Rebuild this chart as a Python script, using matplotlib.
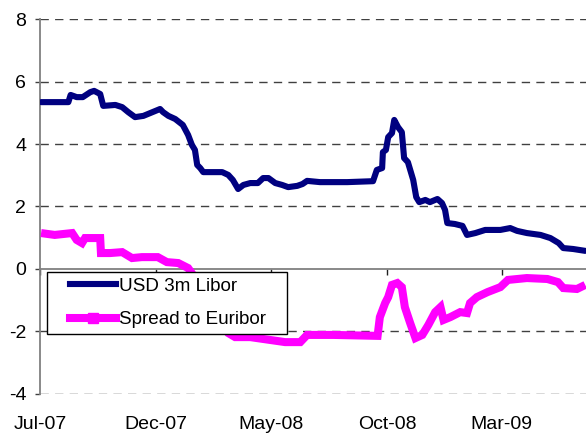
import matplotlib
matplotlib.use("Agg")
import matplotlib.pyplot as plt
from matplotlib.lines import Line2D
from matplotlib.patches import Rectangle
import pandas as pd

plt.rcParams['font.family'] = ['Liberation Sans', 'DejaVu Sans']

libor_dates = ['2007-07-02', '2007-08-07', '2007-08-10', '2007-08-18', '2007-08-26', '2007-09-05',
               '2007-09-10', '2007-09-18', '2007-09-22', '2007-10-08', '2007-10-17', '2007-10-25',
               '2007-11-03', '2007-11-14', '2007-11-23', '2007-12-06', '2007-12-10', '2007-12-17',
               '2007-12-26', '2008-01-05', '2008-01-12', '2008-01-17', '2008-01-21', '2008-01-24',
               '2008-01-28', '2008-02-01', '2008-02-26', '2008-03-05', '2008-03-11', '2008-03-18',
               '2008-03-25', '2008-04-03', '2008-04-13', '2008-04-20', '2008-04-27', '2008-05-06',
               '2008-05-15', '2008-05-23', '2008-06-04', '2008-06-11', '2008-06-17', '2008-07-04',
               '2008-08-09', '2008-09-12', '2008-09-17', '2008-09-24', '2008-09-25', '2008-09-29',
               '2008-10-02', '2008-10-07', '2008-10-10', '2008-10-15', '2008-10-20', '2008-10-23',
               '2008-10-28', '2008-11-04', '2008-11-08', '2008-11-12', '2008-11-20', '2008-11-26',
               '2008-12-06', '2008-12-12', '2008-12-16', '2008-12-19', '2008-12-29', '2009-01-08',
               '2009-01-14', '2009-01-25', '2009-02-07', '2009-02-27', '2009-03-12', '2009-03-21',
               '2009-04-03', '2009-04-21', '2009-05-04', '2009-05-15', '2009-05-21', '2009-06-03',
               '2009-06-19']
libor_values = [5.34, 5.34, 5.57, 5.50, 5.50, 5.66,
                5.70, 5.60, 5.22, 5.25, 5.18, 5.02,
                4.86, 4.90, 4.99, 5.12, 5.02, 4.90,
                4.80, 4.61, 4.29, 3.97, 3.81, 3.33,
                3.23, 3.10, 3.10, 3.01, 2.85, 2.56,
                2.69, 2.75, 2.75, 2.91, 2.91, 2.75,
                2.69, 2.62, 2.66, 2.72, 2.82, 2.78,
                2.78, 2.81, 3.17, 3.23, 3.74, 3.81,
                4.22, 4.35, 4.77, 4.54, 4.38, 3.55,
                3.42, 2.85, 2.30, 2.14, 2.21, 2.14,
                2.24, 2.11, 1.89, 1.47, 1.44, 1.38,
                1.09, 1.15, 1.25, 1.25, 1.31, 1.22,
                1.15, 1.09, 0.99, 0.83, 0.67, 0.64,
                0.58]

spread_dates = ['2007-07-02', '2007-07-20', '2007-08-12', '2007-08-18', '2007-08-25', '2007-08-29',
                '2007-09-18', '2007-09-19', '2007-10-01', '2007-10-17', '2007-10-30', '2007-11-12',
                '2007-12-03', '2007-12-15', '2007-12-30', '2008-01-12', '2008-01-28', '2008-02-17',
                '2008-03-05', '2008-03-14', '2008-04-03', '2008-05-19', '2008-06-08', '2008-06-17',
                '2008-07-22', '2008-09-18', '2008-09-21', '2008-09-28', '2008-10-02', '2008-10-07',
                '2008-10-14', '2008-10-20', '2008-10-24', '2008-10-31', '2008-11-07', '2008-11-16',
                '2008-11-24', '2008-12-03', '2008-12-10', '2008-12-14', '2008-12-23', '2009-01-05',
                '2009-01-14', '2009-01-18', '2009-01-27', '2009-02-10', '2009-02-27', '2009-03-09',
                '2009-04-03', '2009-04-30', '2009-05-14', '2009-05-21', '2009-06-08', '2009-06-19']
spread_values = [1.15, 1.09, 1.15, 0.93, 0.83, 0.99,
                 0.99, 0.51, 0.51, 0.54, 0.35, 0.38,
                 0.38, 0.22, 0.19, 0.03, -0.51, -1.31,
                 -2.05, -2.18, -2.18, -2.34, -2.34, -2.11,
                 -2.11, -2.14, -1.54, -1.09, -0.90, -0.51,
                 -0.45, -0.58, -1.22, -1.73, -2.21, -2.11,
                 -1.79, -1.38, -1.22, -1.63, -1.54, -1.38,
                 -1.41, -1.09, -0.90, -0.74, -0.58, -0.35,
                 -0.29, -0.32, -0.42, -0.61, -0.64, -0.51]

tick_dates = ['2007-07-01', '2007-12-01', '2008-05-01', '2008-10-01', '2009-03-01']
tick_labels = ['Jul-07', 'Dec-07', 'May-08', 'Oct-08', 'Mar-09']
y_ticks = [-4, -2, 0, 2, 4, 6, 8]

series_names = ['USD 3m Libor', 'Spread to Euribor']
navy = '#000080'
magenta = '#FF00FF'

fig = plt.figure(figsize=(5.86, 4.34), dpi=100)
ax = fig.add_axes([0.0688, 0.0922, 0.9312, 0.864])

ld = pd.to_datetime(libor_dates)
sd = pd.to_datetime(spread_dates)
td = pd.to_datetime(tick_dates)

ax.plot(ld, libor_values, color=navy, lw=4.4, solid_joinstyle='round', solid_capstyle='round', zorder=3)
ax.plot(sd, spread_values, color=magenta, lw=5.8, solid_joinstyle='miter', solid_capstyle='butt', zorder=3)

ax.set_xlim(pd.Timestamp('2007-07-01'), pd.Timestamp('2009-06-20'))
ax.set_ylim(-4, 8)

# gridlines
for yv in y_ticks:
    if yv != 0:
        ax.axhline(yv, color='#404040', lw=1.0, ls=(0, (6, 4.5)), zorder=1)

# spines
for s in ['top', 'right']:
    ax.spines[s].set_visible(False)
ax.spines['left'].set_color('#808080')
ax.spines['left'].set_linewidth(1.3)
ax.spines['bottom'].set_position(('data', 0))
ax.spines['bottom'].set_color('#808080')
ax.spines['bottom'].set_linewidth(1.3)

ax.set_yticks(y_ticks)
ax.set_yticklabels([str(v) for v in y_ticks])
ax.tick_params(axis='y', direction='out', length=3.6, width=1, color='#404040', pad=6.5, labelsize=14)

ax.set_xticks(td)
ax.set_xticklabels([])
ax.tick_params(axis='x', direction='out', length=4.3, width=1, color='#202020')

sec = ax.secondary_xaxis('bottom')
sec.set_xticks(td)
sec.set_xticklabels(tick_labels)
sec.tick_params(axis='x', length=0, pad=16, labelsize=14)
sec.spines['bottom'].set_visible(False)

# legend box
rect = Rectangle((0.0123, 0.16), 0.44, 0.165, transform=ax.transAxes, facecolor='white',
                 edgecolor='black', lw=1.0, zorder=4.5)
ax.add_patch(rect)
handles = [Line2D([], [], color=navy, lw=4.4),
           Line2D([], [], color=magenta, lw=5.8, marker='s', markersize=7)]
leg = ax.legend(handles, series_names, loc='upper left', bbox_to_anchor=(0.055, 0.31),
                frameon=False, borderpad=0, borderaxespad=0, handlelength=2.4,
                handletextpad=0.18, labelspacing=0.85, fontsize=13.6)
leg.set_zorder(5)

fig.savefig('out.png', dpi=100)
